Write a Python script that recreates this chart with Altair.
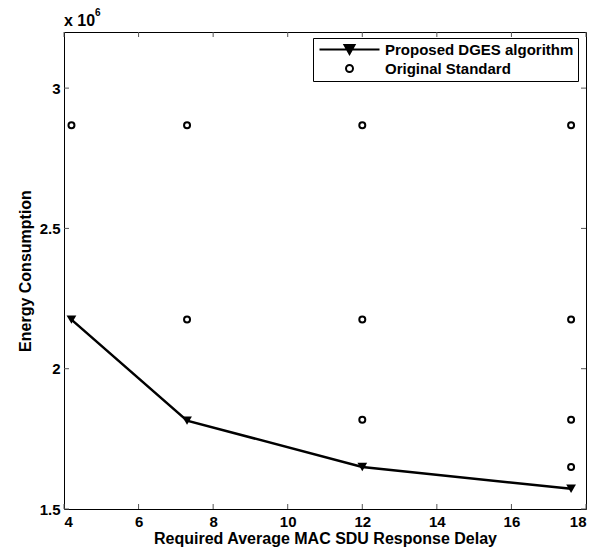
import altair as alt
import pandas as pd

# ---- data ----
delay = [4.2, 7.3, 12.0, 17.6]
proposed = [2175000, 1815000, 1650000, 1572000]

orig_x = [4.2, 7.3, 7.3, 12.0, 12.0, 12.0, 17.6, 17.6, 17.6, 17.6]
orig_y = [2868000, 2868000, 2175000, 2868000, 2175000, 1818000,
          2868000, 2175000, 1818000, 1650000]

series = ["Proposed DGES algorithm", "Original Standard"]
x_ticks = [4, 6, 8, 10, 12, 14, 16, 18]
y_ticks = [1500000, 2000000, 2500000, 3000000]

W, H = 522, 477
FONT = "Liberation Sans"

df_p = pd.DataFrame({"delay": delay, "energy": proposed})
df_o = pd.DataFrame({"delay": orig_x, "energy": orig_y})
df_leg = pd.DataFrame({"series": series, "delay": [4, 4], "energy": [1500000, 1500000]})
df_xt = pd.DataFrame({"delay": x_ticks})
df_yt = pd.DataFrame({"energy": y_ticks})

xs = alt.Scale(domain=[4, 18], nice=False, zero=False)
ys = alt.Scale(domain=[1500000, 3200000], nice=False, zero=False)

x_axis = alt.Axis(values=x_ticks, grid=False, ticks=False, domain=False,
                  labelFont=FONT, labelFontWeight="bold", labelFontSize=15,
                  labelColor="black", labelPadding=5,
                  title="Required Average MAC SDU Response Delay",
                  titleFont=FONT, titleFontWeight="bold", titleFontSize=16,
                  titleColor="black", titlePadding=1)
y_axis = alt.Axis(values=y_ticks, grid=False, ticks=False, domain=False,
                  labelExpr="datum.value / 1000000",
                  labelFont=FONT, labelFontWeight="bold", labelFontSize=15,
                  labelColor="black", labelPadding=4,
                  title="Energy Consumption",
                  titleFont=FONT, titleFontWeight="bold", titleFontSize=16,
                  titleColor="black", titlePadding=6)

X = alt.X("delay:Q", scale=xs, axis=x_axis)
Y = alt.Y("energy:Q", scale=ys, axis=y_axis)

line = alt.Chart(df_p).mark_line(color="black", strokeWidth=2.5).encode(x=X, y=Y)
tri = alt.Chart(df_p).mark_point(shape="triangle-down", filled=True, color="black",
                                 size=95, opacity=1).encode(x=X, y=Y)
circ = alt.Chart(df_o).mark_point(shape="circle", filled=False, color="black",
                                  strokeWidth=2, size=36, opacity=1).encode(x=X, y=Y)

# legend-only layer (no marks drawn)
path_prop = "M-6,0H6M-1,-0.9L1,-0.9L0,0.9Z"
path_orig = "M0.7,0A0.7,0.7,0,1,1,-0.7,0A0.7,0.7,0,1,1,0.7,0Z"
leg_props = dict(orient="none", legendX=249, legendY=6, title=None,
                 strokeColor="black", fillColor="white", padding=4,
                 labelFont=FONT, labelFontWeight="bold", labelFontSize=15,
                 labelColor="black", labelLimit=400,
                 symbolStrokeWidth=2, symbolSize=100, symbolOffset=25,
                 labelOffset=28, rowPadding=3)
leg = alt.Chart(df_leg).mark_point(filled=True, strokeWidth=2, opacity=1).encode(
    x=X, y=Y,
    shape=alt.Shape("series:N", scale=alt.Scale(domain=series, range=[path_prop, path_orig]),
                    legend=alt.Legend(**leg_props)),
    fill=alt.Fill("series:N", scale=alt.Scale(domain=series, range=["black", "white"]),
                  legend=alt.Legend(**leg_props)),
    stroke=alt.Stroke("series:N", scale=alt.Scale(domain=series, range=["black", "black"]),
                      legend=alt.Legend(**leg_props)),
).transform_filter("false")

# inward ticks on all four sides
tick_color = "#555555"
xt_b = alt.Chart(df_xt).mark_rule(color=tick_color).encode(x=alt.X("delay:Q", scale=xs), y=alt.value(H), y2=alt.value(H - 5))
xt_t = alt.Chart(df_xt).mark_rule(color=tick_color).encode(x=alt.X("delay:Q", scale=xs), y=alt.value(0), y2=alt.value(5))
yt_l = alt.Chart(df_yt).mark_rule(color=tick_color).encode(y=alt.Y("energy:Q", scale=ys), x=alt.value(0), x2=alt.value(5))
yt_r = alt.Chart(df_yt).mark_rule(color=tick_color).encode(y=alt.Y("energy:Q", scale=ys), x=alt.value(W), x2=alt.value(W - 5))

# exponent label
exp_base = alt.Chart(pd.DataFrame({"t": ["x 10"]})).mark_text(
    font=FONT, fontWeight="bold", fontSize=16, align="left", baseline="middle", color="black"
).encode(text="t:N", x=alt.value(0), y=alt.value(-11))
exp_sup = alt.Chart(pd.DataFrame({"t": ["6"]})).mark_text(
    font=FONT, fontWeight="bold", fontSize=10, align="left", baseline="middle", color="black"
).encode(text="t:N", x=alt.value(31), y=alt.value(-19))

chart = alt.layer(xt_b, xt_t, yt_l, yt_r, line, tri, circ, leg, exp_base, exp_sup).properties(
    width=W, height=H,
    autosize=alt.AutoSizeParams(type="none"),
    padding={"left": 64, "top": 32, "right": 16, "bottom": 39},
    background="white",
).configure_view(stroke="black", strokeWidth=1)

chart.save("out.html", embed_options={"renderer": "svg", "actions": False})
